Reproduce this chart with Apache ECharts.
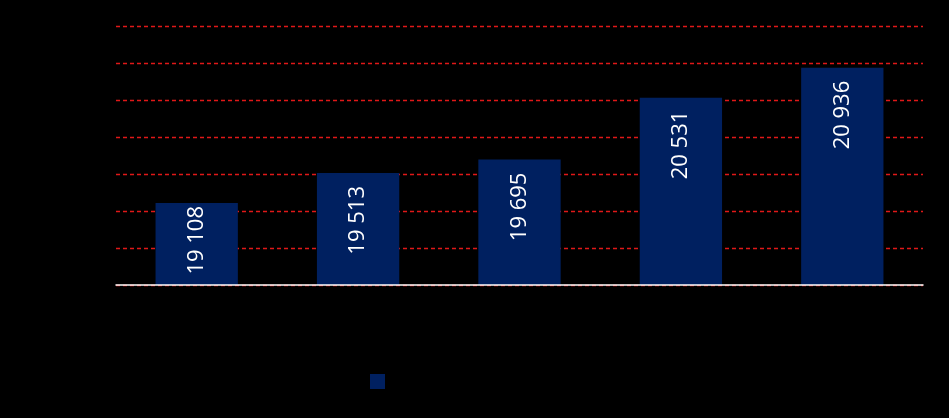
<!DOCTYPE html>
<html>
<head>
<meta charset="utf-8">
<script src="https://cdn.jsdelivr.net/npm/echarts@6/dist/echarts.min.js"></script>
<style>
  html, body { margin: 0; padding: 0; background: #000; }
  #chart { width: 949px; height: 418px; }
</style>
</head>
<body>
<div id="chart"></div>
<script>
/* kategorier och värden */
var categories = ['2015', '2016', '2017', '2018', '2019'];
var values = [19108, 19513, 19695, 20531, 20936];
var seriesName = 'Antal';
var yMin = 18000, yMax = 21500, yStep = 500;

function spaced(v) {
  return String(v).replace(/\B(?=(\d{3})+(?!\d))/g, ' ');
}

var chart = echarts.init(document.getElementById('chart'));

// första stapeln är kort, etiketten trycks upp mot toppen
var barData = values.map(function (v, i) {
  return i === 0 ? { value: v, label: { distance: 3 } } : v;
});

var option = {
  backgroundColor: '#000000',
  animation: false,
  grid: {
    left: 116,
    right: 26,
    top: 26,
    bottom: 133
  },
  legend: {
    left: 370,
    top: 374,
    padding: 0,
    itemWidth: 15,
    itemHeight: 15,
    icon: 'rect',
    textStyle: { color: '#000000', fontSize: 14, fontFamily: 'Open Sans' },
    data: [seriesName]
  },
  xAxis: {
    type: 'category',
    z: 5,
    data: categories,
    axisLine: { lineStyle: { color: '#ffffff', width: 1.5 } },
    axisTick: { show: false },
    axisLabel: { color: '#000000', fontSize: 14, fontFamily: 'Open Sans' }
  },
  yAxis: {
    type: 'value',
    min: yMin,
    max: yMax,
    interval: yStep,
    axisLine: { show: false },
    axisTick: { show: false },
    axisLabel: {
      color: '#000000',
      fontSize: 14,
      fontFamily: 'Open Sans',
      formatter: function (v) { return spaced(v); }
    },
    splitLine: {
      lineStyle: { color: '#e01818', type: [4, 3], width: 1.4 }
    }
  },
  series: [
    {
      name: seriesName,
      type: 'bar',
      data: barData,
      barWidth: '51%',
      itemStyle: { color: '#002060' },
      label: {
        show: true,
        position: 'insideTop',
        rotate: 90,
        align: 'right',
        verticalAlign: 'middle',
        distance: 13,
        color: '#ffffff',
        fontSize: 22,
        fontFamily: 'Open Sans',
        formatter: function (p) { return spaced(p.value); }
      }
    }
  ]
};
chart.setOption(option);
</script>
</body>
</html>
